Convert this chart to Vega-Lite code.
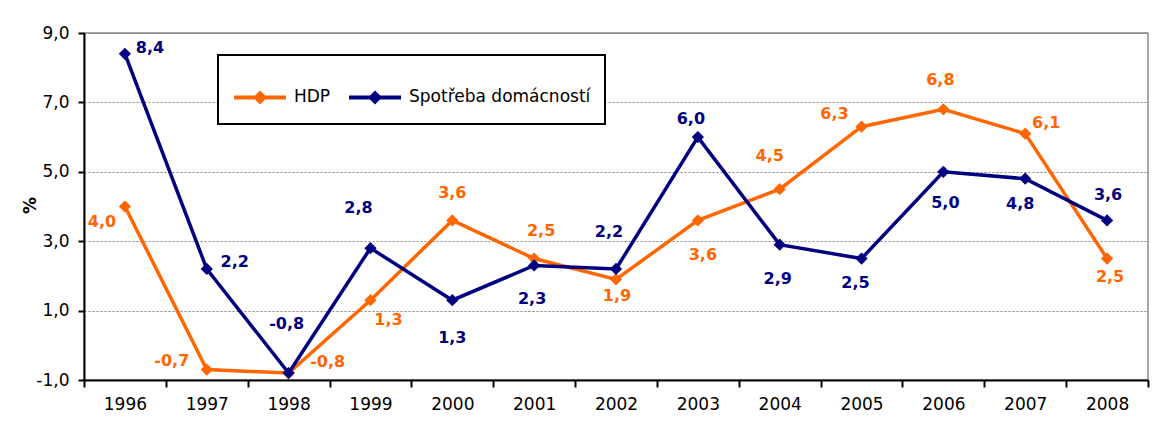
{
  "$schema": "https://vega.github.io/schema/vega-lite/v6.json",
  "width": 1064,
  "height": 347,
  "autosize": {"type": "none"},
  "padding": {"left": 84, "top": 33, "right": 7, "bottom": 46},
  "background": "white",
  "config": {
    "locale": {"number": {"decimal": ",", "thousands": " ", "grouping": [3], "currency": ["", " Kč"], "minus": "-"}},
    "view": {"stroke": "#8c8c8c", "strokeWidth": 1.5},
    "font": "DejaVu Sans",
    "legend": {
      "orient": "none",
      "legendX": 134,
      "legendY": 22,
      "direction": "horizontal",
      "columns": 2,
      "fillColor": "white",
      "strokeColor": "black",
      "strokeWidth": 2,
      "padding": 14,
      "columnPadding": 10,
      "labelOffset": 6,
      "labelLimit": 0,
      "labelFont": "DejaVu Sans",
      "labelFontSize": 17,
      "labelColor": "black",
      "symbolType": "M-1,0H1M0,-0.16L0.16,0L0,0.16L-0.16,0Z",
      "symbolSize": 2704,
      "symbolStrokeWidth": 4
    }
  },
  "data": {
    "values": [
      {"year": "1996", "series": "HDP", "value": 4.0},
      {"year": "1997", "series": "HDP", "value": -0.7},
      {"year": "1998", "series": "HDP", "value": -0.8},
      {"year": "1999", "series": "HDP", "value": 1.3},
      {"year": "2000", "series": "HDP", "value": 3.6},
      {"year": "2001", "series": "HDP", "value": 2.5},
      {"year": "2002", "series": "HDP", "value": 1.9},
      {"year": "2003", "series": "HDP", "value": 3.6},
      {"year": "2004", "series": "HDP", "value": 4.5},
      {"year": "2005", "series": "HDP", "value": 6.3},
      {"year": "2006", "series": "HDP", "value": 6.8},
      {"year": "2007", "series": "HDP", "value": 6.1},
      {"year": "2008", "series": "HDP", "value": 2.5},
      {"year": "1996", "series": "Spotřeba domácností", "value": 8.4},
      {"year": "1997", "series": "Spotřeba domácností", "value": 2.2},
      {"year": "1998", "series": "Spotřeba domácností", "value": -0.8},
      {"year": "1999", "series": "Spotřeba domácností", "value": 2.8},
      {"year": "2000", "series": "Spotřeba domácností", "value": 1.3},
      {"year": "2001", "series": "Spotřeba domácností", "value": 2.3},
      {"year": "2002", "series": "Spotřeba domácností", "value": 2.2},
      {"year": "2003", "series": "Spotřeba domácností", "value": 6.0},
      {"year": "2004", "series": "Spotřeba domácností", "value": 2.9},
      {"year": "2005", "series": "Spotřeba domácností", "value": 2.5},
      {"year": "2006", "series": "Spotřeba domácností", "value": 5.0},
      {"year": "2007", "series": "Spotřeba domácností", "value": 4.8},
      {"year": "2008", "series": "Spotřeba domácností", "value": 3.6}
    ]
  },
  "encoding": {
    "x": {
      "field": "year",
      "type": "ordinal",
      "scale": {"type": "band", "paddingInner": 0, "paddingOuter": 0},
      "axis": {
        "title": null,
        "labelAngle": 0,
        "tickBand": "extent",
        "domainColor": "black",
        "domainWidth": 2,
        "tickColor": "black",
        "tickWidth": 2,
        "tickSize": 7,
        "labelPadding": 9,
        "labelFont": "DejaVu Sans",
        "labelFontSize": 17,
        "labelColor": "black",
        "grid": false
      }
    },
    "y": {
      "field": "value",
      "type": "quantitative",
      "scale": {"domain": [-1, 9], "nice": false, "zero": false},
      "axis": {
        "values": [-1, 1, 3, 5, 7, 9],
        "format": ".1f",
        "title": "%",
        "titleFont": "DejaVu Sans",
        "titleFontSize": 17,
        "titleFontWeight": "bold",
        "titleColor": "black",
        "titleAngle": -90,
        "titleX": -54,
        "titleY": 172,
        "titleAlign": "center",
        "titleBaseline": "middle",
        "domainColor": "black",
        "domainWidth": 2,
        "tickColor": "black",
        "tickWidth": 2,
        "tickSize": 6,
        "labelPadding": 9,
        "labelFont": "DejaVu Sans",
        "labelFontSize": 17,
        "labelColor": "black",
        "grid": true,
        "gridColor": "#808080",
        "gridDash": [2, 2],
        "gridWidth": 1
      }
    }
  },
  "layer": [
    {
      "mark": {"type": "line", "strokeWidth": 3.5},
      "encoding": {
        "stroke": {
          "field": "series",
          "type": "nominal",
          "scale": {"domain": ["HDP", "Spotřeba domácností"], "range": ["#FF6600", "#000080"]},
          "legend": {"title": null}
        }
      }
    },
    {
      "mark": {"type": "point", "shape": "diamond", "filled": true, "size": 150, "opacity": 1},
      "encoding": {
        "fill": {
          "field": "series",
          "type": "nominal",
          "scale": {"domain": ["HDP", "Spotřeba domácností"], "range": ["#FF6600", "#000080"]},
          "legend": {"title": null}
        }
      }
    },
    {
      "transform": [{"filter": "datum.series == 'HDP'"}],
      "mark": {
        "type": "text",
        "font": "DejaVu Sans",
        "fontWeight": "bold",
        "fontSize": 16,
        "color": "#FF6600",
        "align": "center",
        "baseline": "middle",
        "dx": {"expr": "[-23,-35,39,18,0,7,1,5,-10,-27,-3,21,3][toNumber(datum.year)-1996]"},
        "dy": {"expr": "[15,-9,-11,20,-27,-28,17,35,-33,-13,-29,-11,18][toNumber(datum.year)-1996]"}
      },
      "encoding": {"text": {"field": "value", "type": "quantitative", "format": ".1f"}}
    },
    {
      "transform": [{"filter": "datum.series != 'HDP'"}],
      "mark": {
        "type": "text",
        "font": "DejaVu Sans",
        "fontWeight": "bold",
        "fontSize": 16,
        "color": "#000080",
        "align": "center",
        "baseline": "middle",
        "dx": {"expr": "[25,28,-2,-12,0,-2,-7,-7,-2,-6,2,-5,1][toNumber(datum.year)-1996]"},
        "dy": {"expr": "[-6,-7,-49,-40,38,34,-37,-18,34,24,31,25,-25][toNumber(datum.year)-1996]"}
      },
      "encoding": {"text": {"field": "value", "type": "quantitative", "format": ".1f"}}
    }
  ]
}
